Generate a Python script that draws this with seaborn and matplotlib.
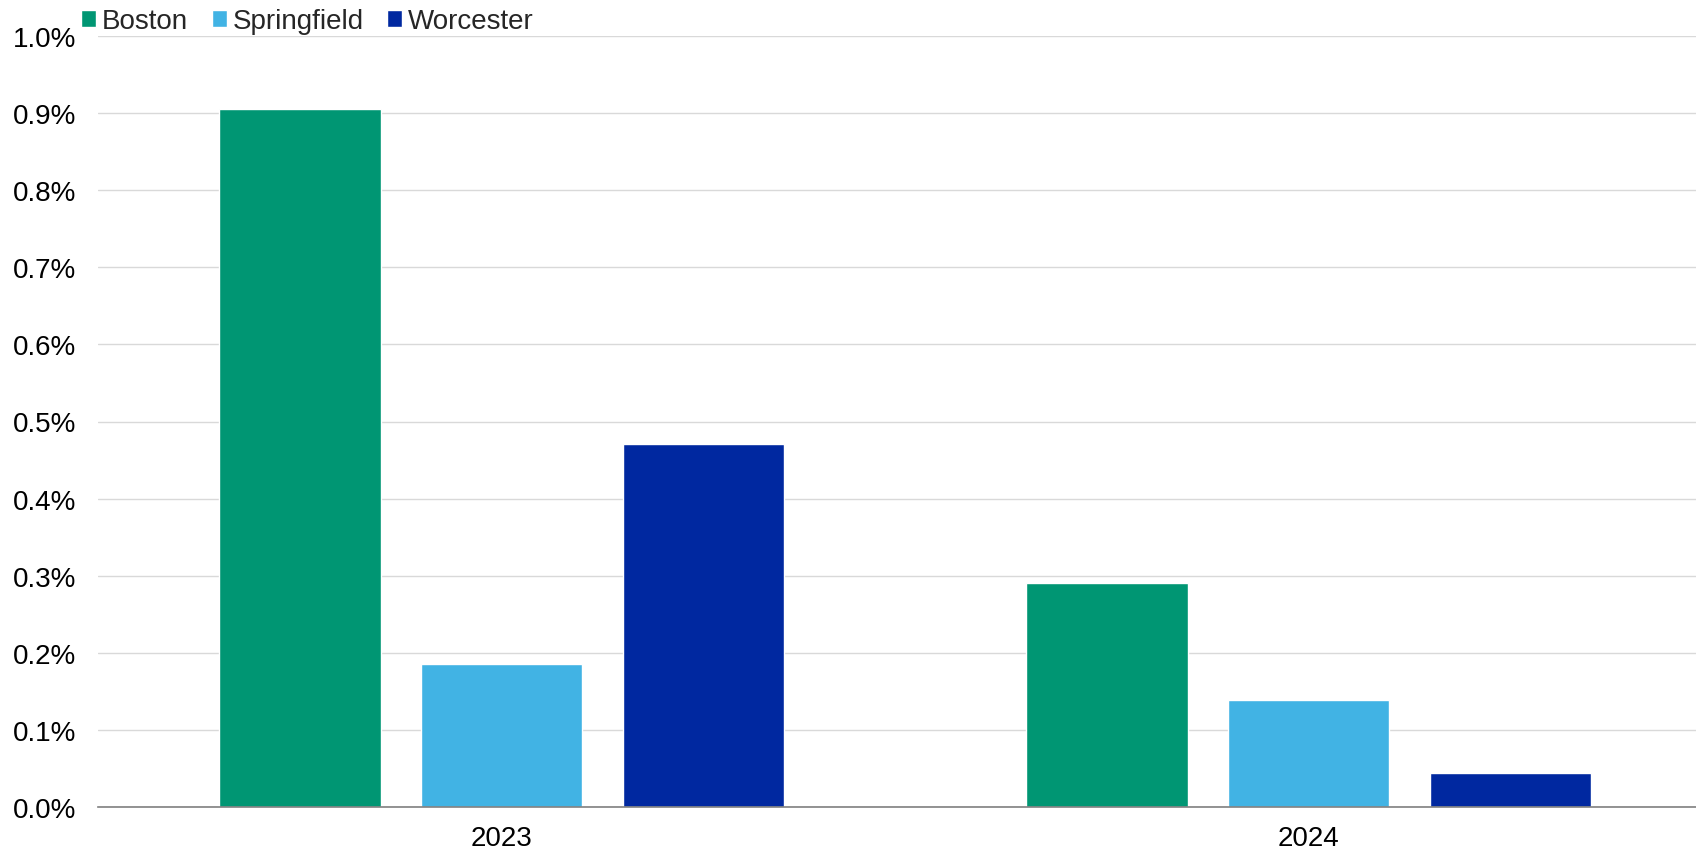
import matplotlib
matplotlib.use("Agg")
import matplotlib.pyplot as plt
import seaborn as sns
import pandas as pd
from matplotlib.ticker import FuncFormatter, FixedLocator

years = ["2023", "2024"]
cities = ["Boston", "Springfield", "Worcester"]
boston = [0.905, 0.290]
springfield = [0.186, 0.139]
worcester = [0.471, 0.044]
colors = ["#009673", "#41B3E4", "#0028A0"]
yticks = [0.0, 0.1, 0.2, 0.3, 0.4, 0.5, 0.6, 0.7, 0.8, 0.9, 1.0]

rows = []
for city, vals in zip(cities, [boston, springfield, worcester]):
    for y, v in zip(years, vals):
        rows.append({"year": y, "city": city, "value": v})
df = pd.DataFrame(rows)

sns.set_theme(style="white")
plt.rcParams["font.family"] = ["Liberation Sans", "DejaVu Sans"]
fs = 20

fig = plt.figure(figsize=(16.96, 8.53), dpi=100)
ax = fig.add_axes([98.4 / 1696, 1 - 808 / 853, (1712 - 98.4) / 1696, (808 - 37) / 853])

sns.barplot(data=df, x="year", y="value", hue="city", order=years, hue_order=cities,
            palette=colors, width=0.75, gap=0.2, ax=ax, saturation=1, zorder=3)

ax.set_xlim(-0.5, 1.5)
ax.set_ylim(0, 1.0)
ax.yaxis.set_major_locator(FixedLocator(yticks))
ax.yaxis.set_major_formatter(FuncFormatter(lambda v, p: f"{v:.1f}%"))
ax.grid(axis="y", color="#D9D9D9", linewidth=1.0, zorder=0)
ax.grid(axis="x", visible=False)
for s in ["top", "right", "left"]:
    ax.spines[s].set_visible(False)
ax.spines["bottom"].set_color("#808080")
ax.spines["bottom"].set_linewidth(1.2)
ax.spines["bottom"].set_zorder(4)

ax.set_xticks([0, 1])
ax.set_xticklabels(years)
ax.set_xticks([-0.5, 0.5, 1.5], minor=True)
ax.tick_params(axis="x", which="major", length=0, labelsize=fs, pad=13, colors="black")
ax.tick_params(axis="x", which="minor", length=8, width=1.2, color="#808080", direction="out")
ax.tick_params(axis="y", length=0, labelsize=fs, pad=16, colors="black")
ax.set_xlabel("")
ax.set_ylabel("")

handles, labels = ax.get_legend_handles_labels()
ax.legend(handles, labels, loc="upper left", bbox_to_anchor=(81 / 1696, 1 - 9 / 853),
          bbox_transform=fig.transFigure, ncol=3, frameon=False, fontsize=fs,
          handlelength=0.55, handleheight=0.55, handletextpad=0.2, columnspacing=0.85,
          borderaxespad=0, borderpad=0)

fig.savefig("out.png", dpi=100)
